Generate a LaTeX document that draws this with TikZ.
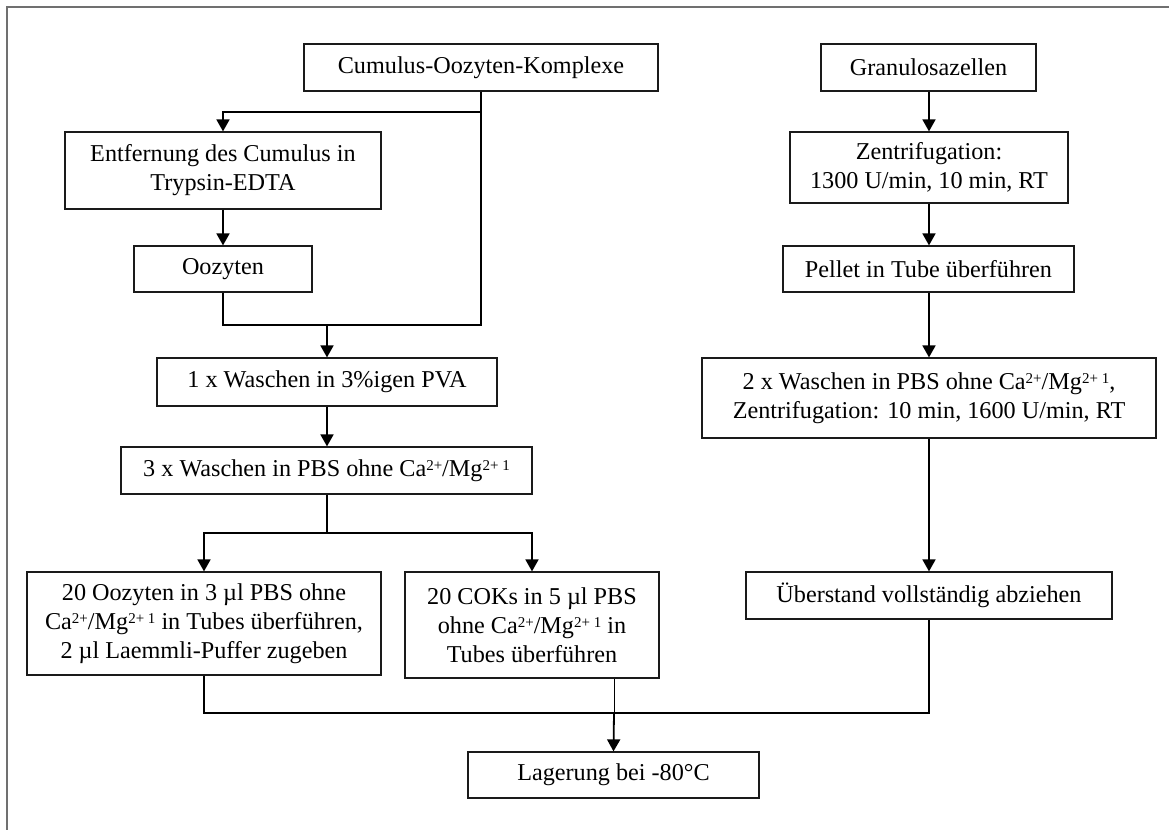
\documentclass[tikz,border=0pt]{standalone}
\usepackage{fontspec}
\setmainfont{Liberation Serif}
\usetikzlibrary{arrows.meta}
\definecolor{framegray}{HTML}{707070}
\definecolor{boxline}{HTML}{1A1A1A}
\newcommand{\sps}[1]{\raisebox{0.55ex}{\fontsize{7.5pt}{8pt}\selectfont #1}}
\tikzset{
  box/.style={draw=boxline, line width=0.6pt, inner sep=0pt, align=center,
    font=\fontsize{12.1pt}{14.5pt}\selectfont},
  conn/.style={draw=black, line width=0.9pt},
  arr/.style={conn, -{Triangle[width=6.5pt,length=6pt]}},
  thinconn/.style={draw=black, line width=0.5pt}
}
\begin{document}
\begin{tikzpicture}[x=0.5pt,y=-0.5pt]
\useasboundingbox (0,0) rectangle (1169,830);
\draw[framegray, line width=0.8pt] (7,7) rectangle (1190,850);
% left column
\node[box, minimum width=177pt, minimum height=23.5pt] (cok) at (481,67.5) {Cumulus-Oozyten-Komplexe};
\node[box, minimum width=158pt, minimum height=38.5pt] (entf) at (223,170.5) {Entfernung des Cumulus in\\Trypsin-EDTA};
\node[box, minimum width=89pt, minimum height=23pt] (ooz) at (223,269) {Oozyten};
\node[box, minimum width=170pt, minimum height=24pt] (pva) at (327,382) {1 x Waschen in 3\%igen PVA};
\node[box, minimum width=205.5pt, minimum height=23.5pt] (pbs) at (326.5,470.5) {3 x Waschen in PBS ohne Ca\sps{2+}/Mg\sps{2+ 1}};
\node[box, minimum width=177pt, minimum height=51.5pt] (o20) at (204,623.5) {20 Oozyten in 3 µl PBS ohne\\Ca\sps{2+}/Mg\sps{2+ 1} in Tubes überführen,\\2 µl Laemmli-Puffer zugeben};
\node[box, minimum width=127pt, minimum height=53pt] (c20) at (532,625) {20 COKs in 5 µl PBS\\ohne Ca\sps{2+}/Mg\sps{2+ 1} in\\Tubes überführen};
\node[box, minimum width=145.5pt, minimum height=23pt] (lag) at (613.5,775) {Lagerung bei -80°C};
% right column
\node[box, minimum width=107.5pt, minimum height=23.5pt] (gran) at (928.5,67.5) {Granulosazellen};
\node[box, minimum width=139pt, minimum height=35.5pt] (zent) at (929,167.5) {Zentrifugation:\\1300 U/min, 10 min, RT};
\node[box, minimum width=145.5pt, minimum height=23pt] (pell) at (928.5,269) {Pellet in Tube überführen};
\node[box, minimum width=227pt, minimum height=40pt] (wash) at (929,398) {2 x Waschen in PBS ohne Ca\sps{2+}/Mg\sps{2+ 1},\\Zentrifugation: 10 min, 1600 U/min, RT};
\node[box, minimum width=183pt, minimum height=23.5pt] (ueb) at (929,595.5) {Überstand vollständig abziehen};
% junctions
\coordinate (j1) at (223,112);
\coordinate (j2) at (327,325);
\coordinate (j3) at (327,533);
\coordinate (j4) at (614,713);
\coordinate (rc) at (929,0);
% connectors left
\draw[arr] (cok.south) |- (j1) -- (entf.north);
\draw[arr] (entf.south) -- (ooz.north);
\draw[conn] (cok.south) |- (j2);
\draw[conn] (ooz.south) |- (j2);
\draw[arr] (j2) -- (j2 |- pva.north);
\draw[arr] (j2 |- pva.south) -- (j2 |- pbs.north);
\draw[conn] (j3 |- pbs.south) -- (j3);
\draw[arr] (j3) -| (o20.north);
\draw[arr] (j3) -| (c20.north);
\draw[conn] (o20.south) |- (j4);
\draw[conn] (ueb.south) |- (j4);
\draw[thinconn] (j4 |- c20.south) -- (j4);
\draw[arr] (j4) -- (lag.north);
% connectors right
\draw[arr] (rc |- gran.south) -- (rc |- zent.north);
\draw[arr] (rc |- zent.south) -- (rc |- pell.north);
\draw[arr] (rc |- pell.south) -- (rc |- wash.north);
\draw[arr] (rc |- wash.south) -- (rc |- ueb.north);
\end{tikzpicture}
\end{document}
